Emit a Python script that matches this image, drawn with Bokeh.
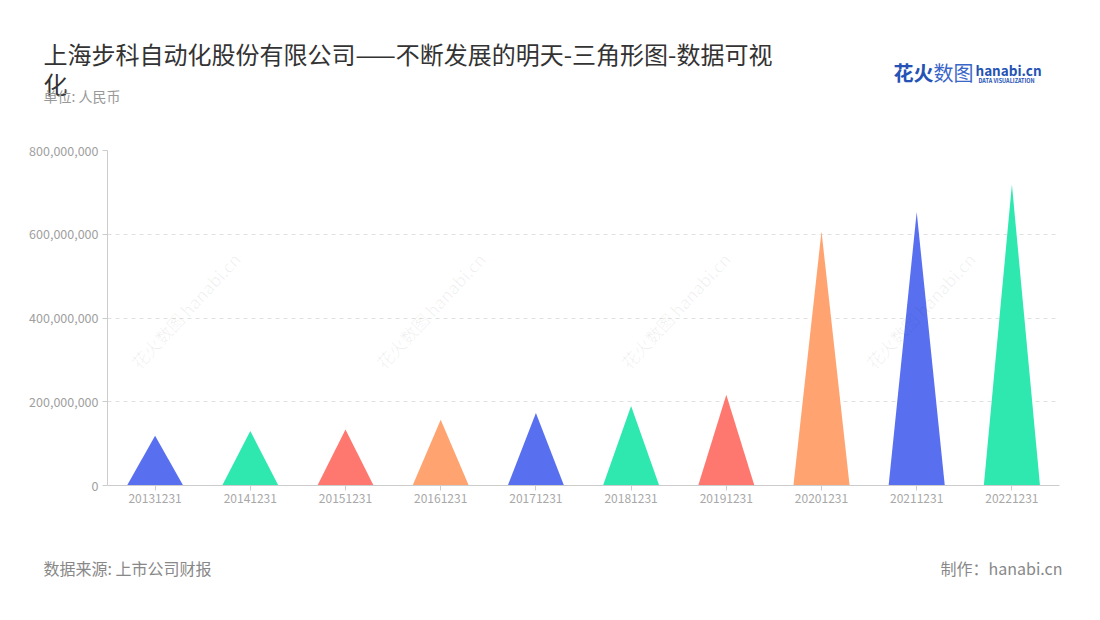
import math
from bokeh.plotting import figure
from bokeh.layouts import column
from bokeh.models import Range1d, FixedTicker, NumeralTickFormatter, ColumnDataSource
from bokeh.core.properties import value
from bokeh.embed import file_html
from bokeh.resources import INLINE

# ---- data ----
categories = ["20131231", "20141231", "20151231", "20161231", "20171231",
              "20181231", "20191231", "20201231", "20211231", "20221231"]
values = [119e6, 130e6, 134e6, 157e6, 173e6, 190e6, 217e6, 607e6, 653e6, 719e6]
palette = ["#5870F0", "#2EE8B0", "#FF7870", "#FFA370"]
y_ticks = [0, 200e6, 400e6, 600e6, 800e6]

title_line1 = "上海步科自动化股份有限公司——不断发展的明天-三角形图-数据可视"
title_line2 = "化"
subtitle = "单位: 人民币"
source_text = "数据来源: 上市公司财报"
maker_text = "制作：hanabi.cn"
logo_cn1 = "花火"
logo_cn2 = "数图"
logo_en = "hanabi.cn"
logo_sub = "DATA VISUALIZATION"
watermark = "花火数图 hanabi.cn"

FONT = "Noto Sans CJK SC"
W = 1100
HEAD_H, MAIN_H, FOOT_H = 140, 380, 100
FRAME_L, FRAME_R, FRAME_T, FRAME_B = 107, 1059, 150, 485  # page coords

# faint watermarks that lie wholly inside the plot frame
WM_POS = [(wx, 310) for wx in [185, 430, 675, 920]]


def no_align(f):
    try:
        f.frame_align = False
    except Exception:
        pass


def blank_fig(h, top):
    f = figure(width=W, height=h, output_backend="svg", toolbar_location=None,
               x_range=Range1d(0, W), y_range=Range1d(top + h, top),
               x_axis_type=None, y_axis_type=None, min_border=0,
               background_fill_color="white", border_fill_color="white")
    f.outline_line_color = None
    f.grid.visible = False
    no_align(f)
    return f


def put(f, text, x, y, size, color, align="left", bold=False, angle=0.0, alpha=1.0, **kw):
    f.text(x=[x], y=[y], text=[text], text_font=value(FONT), text_font_size=f"{size}px",
           text_color=color, text_align=align, text_baseline="middle",
           text_font_style="bold" if bold else "normal", angle=angle, text_alpha=alpha, **kw)

# ---------------- header ----------------
head = blank_fig(HEAD_H, 0)
put(head, title_line1, 43, 53, 24, "#333333")
put(head, title_line2, 43, 83, 24, "#333333")
put(head, subtitle, 43, 95, 14, "#999999")
put(head, logo_cn1, 893, 72, 20, "#2452B5", bold=True)
put(head, logo_cn2, 933, 72, 20, "#3A66C8")
put(head, logo_en, 975, 69, 13.5, "#2452B5", bold=True)
put(head, logo_sub, 978, 80, 5.5, "#2452B5", bold=True)

# ---------------- main chart ----------------
p = figure(width=W, height=MAIN_H, output_backend="svg", toolbar_location=None,
           x_range=Range1d(0, len(categories)), y_range=Range1d(0, 800e6),
           min_border_left=FRAME_L, min_border_right=W - FRAME_R,
           min_border_top=FRAME_T - HEAD_H, min_border_bottom=HEAD_H + MAIN_H - FRAME_B,
           background_fill_color="white", border_fill_color="white")
p.outline_line_color = None
no_align(p)
p.extra_x_ranges["px"] = Range1d(FRAME_L, FRAME_R)
p.extra_y_ranges["py"] = Range1d(FRAME_B, FRAME_T)

half = 0.295
xs, ys, cols = [], [], []
for i, v in enumerate(values):
    c = i + 0.5
    xs.append([c - half, c, c + half])
    ys.append([0, v, 0])
    cols.append(palette[i % len(palette)])
src = ColumnDataSource(dict(xs=xs, ys=ys, color=cols))
p.patches("xs", "ys", source=src, fill_color="color", line_color=None)

p.xgrid.visible = False
p.ygrid.grid_line_color = "#E0E0E0"
p.ygrid.grid_line_dash = "4 4"
p.ygrid.ticker = FixedTicker(ticks=y_ticks)

p.yaxis.ticker = FixedTicker(ticks=y_ticks)
p.yaxis.formatter = NumeralTickFormatter(format="0,0")
p.yaxis.axis_line_color = "#CCCCCC"
p.yaxis.major_tick_line_color = "#CCCCCC"
p.yaxis.major_tick_out = 5
p.yaxis.major_tick_in = 0
p.yaxis.minor_tick_line_color = None
p.yaxis.major_label_text_color = "#A0A0A0"
p.yaxis.major_label_text_font = FONT
p.yaxis.major_label_text_font_size = "12.5px"
p.yaxis.major_label_standoff = 4

p.xaxis.ticker = FixedTicker(ticks=[i + 0.5 for i in range(len(categories))])
p.xaxis.major_label_overrides = {i + 0.5: c for i, c in enumerate(categories)}
p.xaxis.axis_line_color = "#CCCCCC"
p.xaxis.major_tick_line_color = "#CCCCCC"
p.xaxis.major_tick_out = 5
p.xaxis.major_tick_in = 0
p.xaxis.minor_tick_line_color = None
p.xaxis.major_label_text_color = "#A8A8A8"
p.xaxis.major_label_text_font = FONT
p.xaxis.major_label_text_font_size = "12px"
p.xaxis.major_label_standoff = 3

for wx, wy in WM_POS:
    put(p, watermark, wx, wy, 17, "#000000", align="center",
        angle=math.radians(47), alpha=0.06, x_range_name="px", y_range_name="py")

# ---------------- footer ----------------
foot = blank_fig(FOOT_H, HEAD_H + MAIN_H)
put(foot, source_text, 43, 567, 16, "#888888")
put(foot, maker_text, 1062, 567, 16, "#888888", align="right")

layout = column(head, p, foot, spacing=0)
open("out.html", "w").write(file_html(layout, INLINE))
